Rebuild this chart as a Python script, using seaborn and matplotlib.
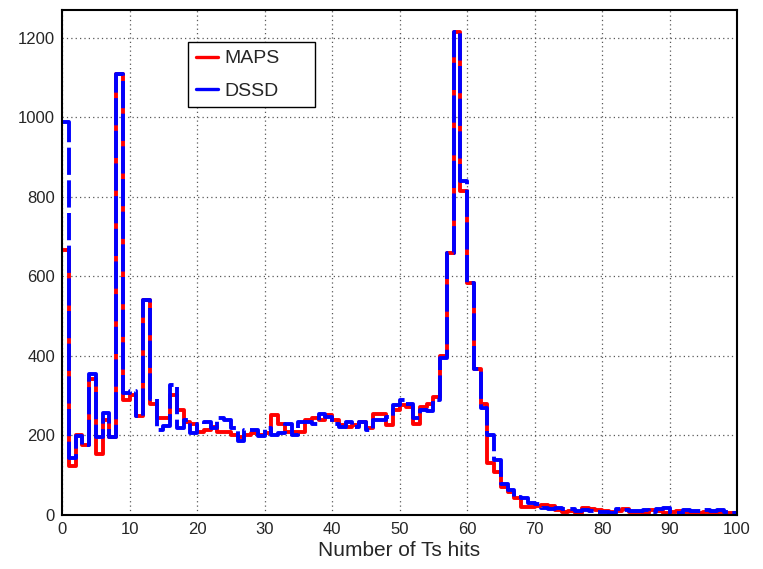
"""
Number of Ts hits per event, MAPS vs. DSSD.
"""
# Standard imports:
import matplotlib
matplotlib.use('Agg')
import matplotlib.pyplot as plt
import seaborn as sns
import numpy as np
import pandas as pd


# === Data ===

# Histogram bin centres (1 hit per bin, 0 to 100).
hits = np.arange(100) + 0.5

# MAPS counts per bin.
maps_counts = [
    666, 122, 200, 176, 341, 154, 240, 195, 1108, 290,
    303, 250, 541, 280, 244, 244, 303, 263, 234, 230,
    209, 213, 222, 209, 209, 201, 197, 201, 206, 200,
    206, 251, 230, 209, 209, 209, 239, 243, 239, 251,
    239, 226, 222, 226, 235, 218, 255, 255, 226, 264,
    276, 272, 230, 272, 278, 296, 400, 660, 1214, 815,
    584, 368, 278, 132, 109, 71, 59, 42, 21, 21,
    23, 25, 23, 12, 8, 11, 6, 17, 14, 13,
    11, 8, 11, 14, 8, 8, 4, 12, 11, 4,
    8, 11, 8, 6, 6, 8, 6, 8, 6, 4,
]

# DSSD counts per bin.
dssd_counts = [
    988, 144, 198, 176, 354, 196, 257, 197, 1108, 307,
    311, 250, 541, 292, 214, 225, 328, 218, 239, 205,
    230, 234, 218, 243, 239, 218, 186, 213, 213, 198,
    218, 201, 205, 230, 201, 234, 235, 230, 255, 247,
    230, 222, 234, 222, 235, 213, 239, 239, 247, 276,
    289, 280, 243, 265, 261, 290, 395, 660, 1214, 840,
    584, 368, 269, 202, 138, 79, 63, 46, 42, 29,
    28, 17, 14, 17, 14, 14, 11, 13, 11, 8,
    8, 4, 14, 12, 11, 11, 12, 8, 14, 17,
    4, 4, 12, 11, 11, 12, 11, 12, 8, 4,
]

# Axis ticks.
x_ticks = [0, 10, 20, 30, 40, 50, 60, 70, 80, 90, 100]
y_ticks = [0, 200, 400, 600, 800, 1000, 1200]

counts = pd.DataFrame({'hits': hits, 'MAPS': maps_counts, 'DSSD': dssd_counts})


# === Setup ===

sns.set_theme(style='white')
plt.rcParams.update({
    'font.family': ['Liberation Sans', 'DejaVu Sans'],
    'axes.edgecolor': 'black',
    'axes.linewidth': 1.5,
})

fig = plt.figure(figsize=(7.63, 5.69), dpi=100)
ax = fig.add_axes([0.0813, 0.0949, 0.8847, 0.8875])


# === Draw the histograms ===

sns.histplot(
    data=counts, x='hits', weights='MAPS', bins=100, binrange=(0, 100),
    element='step', fill=False, color='#ff0000', linewidth=2.8,
    label='MAPS', ax=ax,
)
sns.histplot(
    data=counts, x='hits', weights='DSSD', bins=100, binrange=(0, 100),
    element='step', fill=False, color='#0000ff', linewidth=2.8,
    linestyle=(0, (7, 1.4)), label='DSSD', ax=ax,
)


# === Axes styling ===

ax.set_xlim(0, 100)
ax.set_ylim(0, 1270)
ax.set_xticks(x_ticks)
ax.set_yticks(y_ticks)
ax.set_xticks(np.arange(0, 101, 2), minor=True)
ax.set_yticks(np.arange(0, 1270, 50), minor=True)
ax.tick_params(axis='both', which='both', direction='in', color='black',
               labelsize=12, width=0.9)
ax.tick_params(axis='x', which='major', length=11, pad=5)
ax.tick_params(axis='x', which='minor', length=5.5)
ax.tick_params(axis='y', which='major', length=13, pad=5)
ax.tick_params(axis='y', which='minor', length=8)
ax.grid(True, which='major', linestyle=(0, (1, 2.5)), color='0.35', linewidth=0.9)
ax.set_axisbelow(True)

ax.set_xlabel('Number of Ts hits', fontsize=15, labelpad=3)
ax.set_ylabel('')

legend = ax.legend(
    loc='upper left', bbox_to_anchor=(0.1867, 0.81, 0.188, 0.1267),
    mode='expand', fontsize=14,
    frameon=True, fancybox=False, edgecolor='black', framealpha=1,
    handlelength=1.15, handletextpad=0.3, borderpad=0.4, labelspacing=0.75,
    borderaxespad=0,
)
legend.get_frame().set_linewidth(1.0)
for line in legend.get_lines():
    line.set_linestyle('-')
    line.set_linewidth(2.4)

plt.savefig('out.png', dpi=100)
